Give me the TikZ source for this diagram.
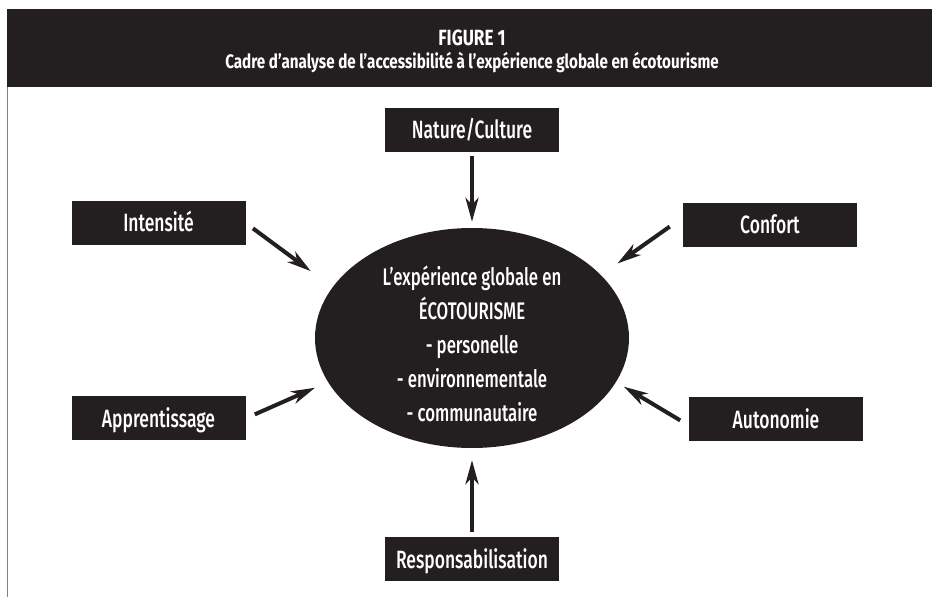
\documentclass[tikz,border=0pt]{standalone}
\usepackage{fontspec}
\setmainfont{Fira Sans Medium}[FakeStretch=0.7]
\newfontfamily\headfont{Fira Sans Bold}[FakeStretch=0.78]
\usetikzlibrary{positioning}
\usetikzlibrary{arrows.meta}
\usetikzlibrary{shapes.geometric}
\definecolor{inkblack}{HTML}{231F20}

\tikzset{
  factor/.style={fill=inkblack, text=white, minimum width=174pt, minimum height=44pt,
    inner sep=0pt, text height=17.5pt, text depth=0pt, font=\fontsize{25}{30}\selectfont},
  influence/.style={draw=inkblack, line width=4pt, -{Stealth[length=24pt, width=13pt, inset=7pt]}},
}

\begin{document}
\begin{tikzpicture}[x=1pt, y=-1pt]
    \useasboundingbox (0,0) rectangle (932,597);
    \fill[inkblack] (7,9) rectangle (932,87);
    \draw[gray, line width=1pt] (7,87) -- (7,597);

    \node[text=white, align=center, font=\headfont\fontsize{19.5}{23}\selectfont] (title) at (472,51)
        {{\fontsize{22}{23}\selectfont FIGURE 1}\\Cadre d’analyse de l’accessibilité à l’expérience globale en écotourisme};

    \node[ellipse, fill=inkblack, minimum width=314pt, minimum height=220pt, inner sep=0pt] (eco) at (472,338) {};
    \node[text=white, align=center, font=\fontsize{24}{34}\selectfont] (ecolabel) at ([yshift=-6pt]eco.center)
        {L’expérience globale en\\ÉCOTOURISME\\- personelle\\- environnementale\\- communautaire};

    \node[factor, above=76pt of eco] (nature) {Nature/Culture};
    \node[factor, below=89pt of eco] (respons) {Responsabilisation};
    \node[factor] (intensite) at (158.5,223) {Intensité};
    \node[factor, below=151pt of intensite] (apprentissage) {Apprentissage};
    \node[factor] (confort) at (770,225) {Confort};
    \node[factor, below=150pt of confort, xshift=6pt] (autonomie) {Autonomie};

    \draw[influence, shorten <=4pt, shorten >=6pt] (nature) -- (eco);
    \draw[influence, shorten <=5pt, shorten >=12pt] (respons) -- (eco);
    \draw[influence, shorten <=9pt, shorten >=27pt] (intensite.east) -- (eco.160);
    \draw[influence, shorten <=10pt, shorten >=14pt] (apprentissage.east) -- (eco.197);
    \draw[influence, shorten <=16pt, shorten >=20pt] (confort.175) -- (eco.26);
    \draw[influence, shorten <=10pt, shorten >=9pt] (autonomie.184) -- (eco.343);
\end{tikzpicture}
\end{document}
